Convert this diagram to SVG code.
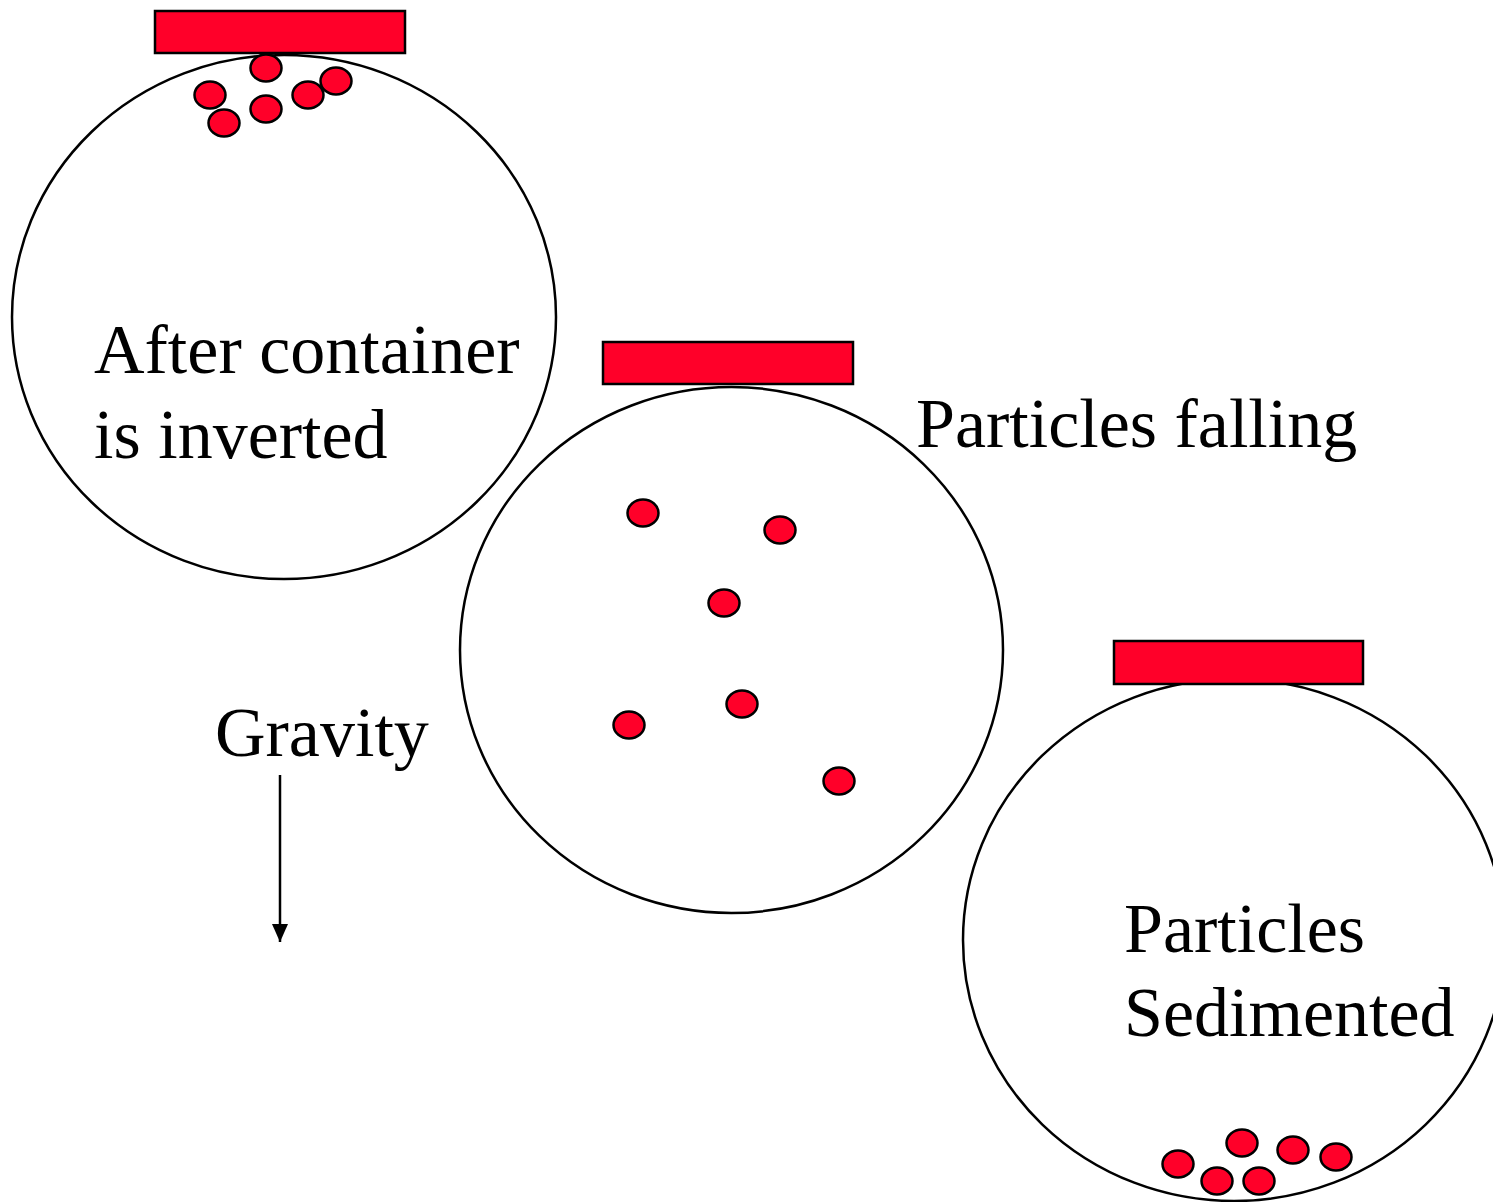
<svg xmlns="http://www.w3.org/2000/svg" width="1493" height="1202" viewBox="0 0 1493 1202">
<style>
.vessel{fill:#fff;stroke:#000;stroke-width:2.5}
.lid{fill:#ff0029;stroke:#000;stroke-width:2.5}
.p{fill:#ff0029;stroke:#000;stroke-width:2.5}
.t{font-family:"Liberation Serif","Times New Roman",serif;font-size:70px;fill:#000}
</style>
<defs>
<marker id="ah" viewBox="0 0 18 16" refX="18" refY="8" markerWidth="18" markerHeight="16" markerUnits="userSpaceOnUse" orient="auto">
<path d="M0,0 L18,8 L0,16 Z" fill="#000"/>
</marker>
</defs>
<rect width="1493" height="1202" fill="#fff"/>
<g id="container1">
<ellipse class="vessel" cx="284" cy="317" rx="272" ry="262"/>
<rect class="lid" x="155" y="11" width="250" height="42"/>
<ellipse class="p" cx="266" cy="68" rx="15.5" ry="13.5"/>
<ellipse class="p" cx="210" cy="95" rx="15.5" ry="13.5"/>
<ellipse class="p" cx="224" cy="123" rx="15.5" ry="13.5"/>
<ellipse class="p" cx="266" cy="109" rx="15.5" ry="13.5"/>
<ellipse class="p" cx="308" cy="95" rx="15.5" ry="13.5"/>
<ellipse class="p" cx="336" cy="81" rx="15.5" ry="13.5"/>
<text class="t" x="94" y="373">After container</text>
<text class="t" x="94" y="458">is inverted</text>
</g>
<g id="container2">
<ellipse class="vessel" cx="731.5" cy="650" rx="271.5" ry="263"/>
<rect class="lid" x="603" y="342" width="250" height="42"/>
<ellipse class="p" cx="643" cy="513" rx="15.5" ry="13.5"/>
<ellipse class="p" cx="780" cy="530" rx="15.5" ry="13.5"/>
<ellipse class="p" cx="724" cy="603" rx="15.5" ry="13.5"/>
<ellipse class="p" cx="742" cy="704" rx="15.5" ry="13.5"/>
<ellipse class="p" cx="629" cy="725" rx="15.5" ry="13.5"/>
<ellipse class="p" cx="839" cy="781" rx="15.5" ry="13.5"/>
<text class="t" x="916" y="447">Particles falling</text>
</g>
<g id="container3">
<ellipse class="vessel" cx="1234" cy="940" rx="271" ry="261"/>
<rect class="lid" x="1114" y="641" width="249" height="43"/>
<ellipse class="p" cx="1178" cy="1164" rx="15.5" ry="13.5"/>
<ellipse class="p" cx="1217" cy="1181" rx="15.5" ry="13.5"/>
<ellipse class="p" cx="1242" cy="1143" rx="15.5" ry="13.5"/>
<ellipse class="p" cx="1259" cy="1181" rx="15.5" ry="13.5"/>
<ellipse class="p" cx="1293" cy="1150" rx="15.5" ry="13.5"/>
<ellipse class="p" cx="1336" cy="1157" rx="15.5" ry="13.5"/>
<text class="t" x="1124" y="952">Particles</text>
<text class="t" x="1124" y="1036">Sedimented</text>
</g>
<g id="gravity">
<text class="t" x="215" y="756">Gravity</text>
</g>
<g id="connectors">
<line x1="280" y1="775" x2="280" y2="942" stroke="#000" stroke-width="2.5" marker-end="url(#ah)"/>
</g>
</svg>
